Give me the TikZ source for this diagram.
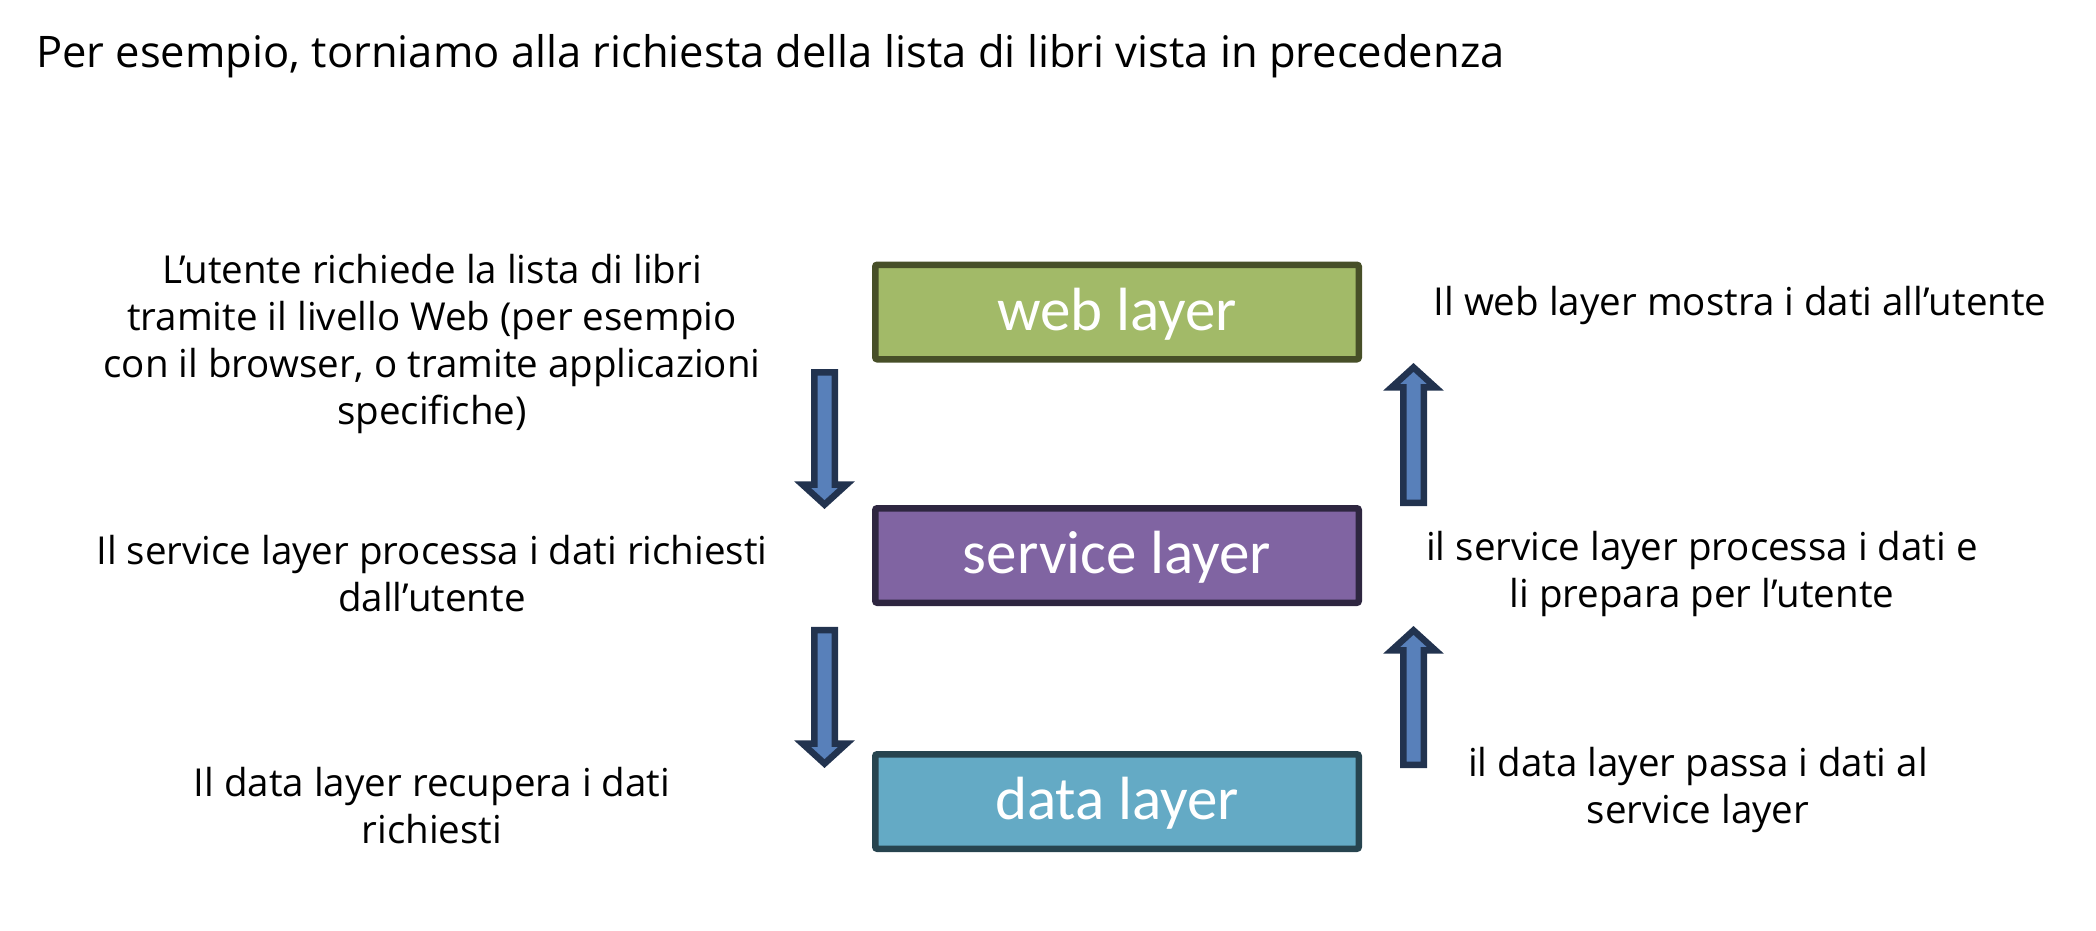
\documentclass[tikz,border=0pt]{standalone}
\usepackage{fontspec}
\setmainfont{Open Sans}
\newfontfamily\boxfont{Carlito}
\definecolor{webfill}{HTML}{A2BA68}
\definecolor{webdraw}{HTML}{474F28}
\definecolor{svcfill}{HTML}{8064A2}
\definecolor{svcdraw}{HTML}{2E2640}
\definecolor{datafill}{HTML}{64AAC5}
\definecolor{datadraw}{HTML}{27444F}
\definecolor{arrfill}{HTML}{5880BA}
\definecolor{arrdraw}{HTML}{22334F}
\tikzset{
  layerbox/.style={rectangle, rounded corners=2pt, minimum width=483.5pt, minimum height=94.5pt,
    line width=6.5pt, inner sep=0pt, text=white, text height=48pt, text depth=11.6pt,
    font=\boxfont\fontsize{61}{70}\selectfont},
  sidetext/.style={align=center, inner sep=0pt, font=\fontsize{38.5}{47}\selectfont},
  blockarrow/.style={fill=arrfill, draw=arrdraw, line width=6.5pt, line join=miter}
}
\newcommand{\downarrowblk}[2]{% from coordinate #1 (top) to #2 (tip)
  \draw[blockarrow] ($(#1)+(-10.25,0)$) -- ($(#1)+(10.25,0)$) -- ($(#2)+(10.25,-20)$) -- ($(#2)+(22,-20)$)
    -- (#2) -- ($(#2)+(-22,-20)$) -- ($(#2)+(-10.25,-20)$) -- cycle;}
\newcommand{\uparrowblk}[2]{% from coordinate #1 (bottom) to #2 (tip)
  \draw[blockarrow] ($(#1)+(-10.25,0)$) -- ($(#1)+(10.25,0)$) -- ($(#2)+(10.25,20)$) -- ($(#2)+(22,20)$)
    -- (#2) -- ($(#2)+(-22,20)$) -- ($(#2)+(-10.25,20)$) -- cycle;}
\usetikzlibrary{calc}
\begin{document}
\begin{tikzpicture}[x=1pt, y=-1pt]
\useasboundingbox (0,0) rectangle (2096,930);
\node[anchor=west, inner sep=0pt, font=\fontsize{43.5}{52}\selectfont] (title) at (36,56)
  {Per esempio, torniamo alla richiesta della lista di libri vista in precedenza};

\node[layerbox, fill=webfill, draw=webdraw] (web) at (1117,312) {web layer};
\node[layerbox, fill=svcfill, draw=svcdraw] (svc) at (1117,555.5) {service layer};
\node[layerbox, fill=datafill, draw=datadraw] (data) at (1117,801.5) {data layer};

\coordinate (a1s) at (824.5,372.25); \coordinate (a1e) at (824.5,504.6);
\coordinate (a2s) at (824.5,630); \coordinate (a2e) at (824.5,763.6);
\coordinate (b1s) at (1413.5,502.75); \coordinate (b1e) at (1413.5,367.4);
\coordinate (b2s) at (1413.5,764.75); \coordinate (b2e) at (1413.5,630.4);
\downarrowblk{a1s}{a1e}
\downarrowblk{a2s}{a2e}
\uparrowblk{b1s}{b1e}
\uparrowblk{b2s}{b2e}

\node[sidetext] (l1) at (432,344) {L’utente richiede la lista di libri\\tramite il livello Web (per esempio\\con il browser, o tramite applicazioni\\specifiche)};
\node[sidetext] (l2) at (432,574) {Il service layer processa i dati richiesti\\dall’utente};
\node[sidetext] (l3) at (432,806) {Il data layer recupera i dati\\richiesti};
\node[sidetext] (r1) at (1740,305) {Il web layer mostra i dati all’utente};
\node[sidetext] (r2) at (1702,574) {il service layer processa i dati e\\li prepara per l’utente};
\node[sidetext] (r3) at (1698,790) {il data layer passa i dati al\\service layer};
\end{tikzpicture}
\end{document}
